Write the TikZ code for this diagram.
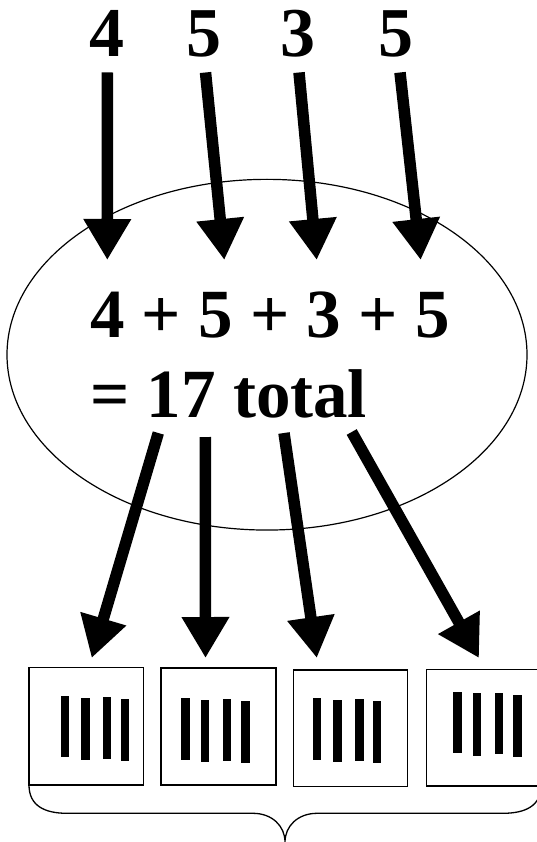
\documentclass[tikz,border=0pt]{standalone}
\usepackage{fontspec}
\setmainfont{Liberation Serif}
\usetikzlibrary{arrows.meta,shapes.geometric}
\begin{document}
\begin{tikzpicture}[x=1pt,y=-1pt,
  bigarrow/.style={line width=11.5pt,-{Triangle[length=41pt,width=45pt]}},
  numtext/.style={font=\fontsize{70}{84}\selectfont\bfseries,inner sep=0pt,anchor=base},
  sumtext/.style={font=\fontsize{69}{80}\selectfont\bfseries,inner sep=0pt,anchor=base west},
  tallybox/.style={draw,line width=1.5pt},
  tally/.style={fill=black}]
\useasboundingbox (0,0) rectangle (537,842);
% top numbers
\node[numtext] (n1) at (107,57) {4};
\node[numtext] (n2) at (204,57) {5};
\node[numtext] (n3) at (298,57) {3};
\node[numtext] (n4) at (396,57) {5};
% ellipse
\node[draw,line width=1.2pt,ellipse,minimum width=520pt,minimum height=350.7pt,inner sep=0pt] (ell) at (267,354.7) {};
\node[sumtext] (s1) at (90,337) {4 + 5 + 3 + 5};
\node[sumtext] (s2) at (90,417) {= 17 total};
% top arrow coordinates
\coordinate (ta1) at (107.4,72.5); \coordinate (tb1) at (107.3,260);
\coordinate (ta2) at (205.5,72.5); \coordinate (tb2) at (224.3,260);
\coordinate (ta3) at (299,72.5);   \coordinate (tb3) at (316.7,260);
\coordinate (ta4) at (400,72.5);   \coordinate (tb4) at (420.7,260);
\foreach \i in {1,...,4} {\draw[bigarrow] (ta\i) -- (tb\i);}
% bottom arrow coordinates
\coordinate (ba1) at (158.3,433); \coordinate (bb1) at (91.7,658);
\coordinate (ba2) at (205.3,437); \coordinate (bb2) at (205.5,658);
\coordinate (ba3) at (284,433);   \coordinate (bb3) at (316.8,658);
\coordinate (ba4) at (351.7,432); \coordinate (bb4) at (479,658);
\foreach \i in {1,...,4} {\draw[bigarrow] (ba\i) -- (bb\i);}
% boxes
\draw[tallybox] (29,667.7) rectangle (143.3,785);
\draw[tallybox] (161,668) rectangle (276,785);
\draw[tallybox] (293.3,670) rectangle (407.5,786.7);
\draw[tallybox] (426.7,669.3) rectangle (541,786);
% tallies box 1
\fill[tally] (60.7,696) rectangle (69.3,757.3);
\fill[tally] (81.3,698) rectangle (89.7,759.7);
\fill[tally] (103,696.7) rectangle (111.3,758.7);
\fill[tally] (121,699.3) rectangle (129.3,761.3);
% box 2
\fill[tally] (181,698) rectangle (189.7,759.7);
\fill[tally] (201,700) rectangle (209.3,762);
\fill[tally] (222.7,698.7) rectangle (231,760.7);
\fill[tally] (241.3,701) rectangle (249.7,763.3);
% box 3
\fill[tally] (313,698) rectangle (321.3,760);
\fill[tally] (333.3,700) rectangle (341.8,762);
\fill[tally] (355.2,698.7) rectangle (363.7,760.7);
\fill[tally] (373,701) rectangle (381.2,763.3);
% box 4
\fill[tally] (453.3,691.7) rectangle (461.7,753.3);
\fill[tally] (473,693.3) rectangle (481.3,755.7);
\fill[tally] (494.7,692.7) rectangle (503,754.3);
\fill[tally] (513.3,695.3) rectangle (521.7,757.3);
% brace
\coordinate (bl) at (29,785);
\coordinate (bt) at (285,842);
\coordinate (br) at (541,786);
\draw[line width=1.3pt] (bl) .. controls (29,806) and (45,813.3) .. (67,813.3)
  -- (253,813.3) .. controls (272,813.3) and (285,826) .. (bt)
  .. controls (285,826) and (298,813.3) .. (317,813.3)
  -- (503,813.3) .. controls (525,813.3) and (541,806) .. (br);
\end{tikzpicture}
\end{document}
